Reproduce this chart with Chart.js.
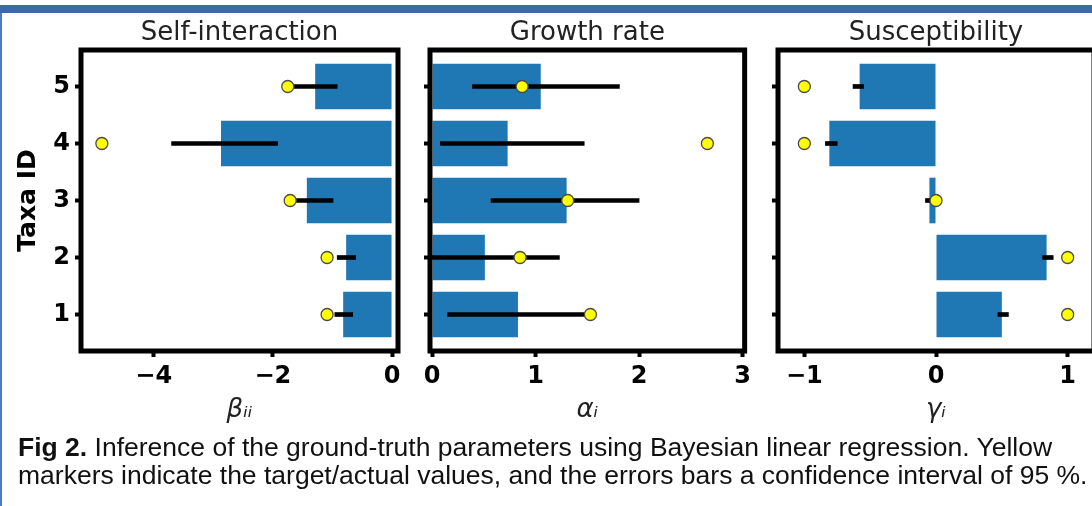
<!DOCTYPE html>
<html>
<head>
<meta charset="utf-8">
<script src="https://cdn.jsdelivr.net/npm/chart.js@4"></script>
<style>
    body {
        margin: 0;
        width: 1092px;
        height: 506px;
        overflow: hidden;
        position: relative;
        background: #fff;
    }
    canvas {
        position: absolute;
        top: 0;
    }
    .top-bar {
        position: absolute;
        left: 0;
        top: 5px;
        width: 1092px;
        height: 8px;
        background: #3b6aa7;
    }
    .left-bar {
        position: absolute;
        left: 0;
        top: 13px;
        width: 2px;
        height: 493px;
        background: #4a7ac0;
    }
    .caption {
        position: absolute;
        left: 18px;
        top: 433px;
        font-family: 'Liberation Sans', Arial, sans-serif;
        font-size: 26.5px;
        line-height: 28px;
        color: #111;
        white-space: nowrap;
    }
</style>
</head>
<body>
<div class="top-bar"></div>
<div class="left-bar"></div>
<canvas id="selfInteractionChart" width="410" height="435" style="left:0px"></canvas>
<canvas id="growthRateChart" width="346" height="435" style="left:410px"></canvas>
<canvas id="susceptibilityChart" width="350" height="435" style="left:756px"></canvas>
<div class="caption"><b>Fig 2.</b> Inference of the ground-truth parameters using Bayesian linear regression. Yellow<br>markers indicate the target/actual values, and the errors bars a confidence interval of 95 %.</div>

<script>
// Data, in taxa order 1..5
const taxaIds = [1, 2, 3, 4, 5];
const taxaTicks = [1, 2, 3, 4, 5];

const selfInteractionMean = [-0.82, -0.77, -1.43, -2.87, -1.29];
const selfInteractionLow = [-0.96, -0.92, -1.80, -3.70, -1.66];
const selfInteractionHigh = [-0.66, -0.61, -0.99, -1.92, -0.92];
const selfInteractionTrue = [-1.09, -1.09, -1.71, -4.87, -1.75];
const selfInteractionTicks = [-4, -2, 0];

const growthRateMean = [0.83, 0.51, 1.30, 0.73, 1.05];
const growthRateLow = [0.15, -0.20, 0.57, 0.08, 0.39];
const growthRateHigh = [1.52, 1.23, 2.00, 1.47, 1.81];
const growthRateTrue = [1.53, 0.85, 1.31, 2.66, 0.87];
const growthRateTicks = [0, 1, 2, 3];

const susceptibilityMean = [0.50, 0.84, -0.05, -0.81, -0.58];
const susceptibilityLow = [0.47, 0.81, -0.08, -0.84, -0.63];
const susceptibilityHigh = [0.55, 0.89, -0.02, -0.75, -0.55];
const susceptibilityTrue = [1, 1, 0, -1, -1];
const susceptibilityTicks = [-1, 0, 1];

const FONT = 'DejaVu Sans';

// thick black box around each plot area
const framePlugin = {
    id: 'frame',
    afterDraw(chart) {
        const { ctx, chartArea } = chart;
        ctx.save();
        ctx.lineWidth = 5;
        ctx.strokeStyle = '#000';
        ctx.strokeRect(chartArea.left, chartArea.top, chartArea.right - chartArea.left, chartArea.bottom - chartArea.top);
        ctx.restore();
    }
};

const minusSign = value => value < 0 ? '\u2212' + Math.abs(value) : String(value);

function makePanelConfig(panel) {
    return {
        type: 'bar',
        data: {
            datasets: [
                {
                    type: 'scatter',
                    data: taxaIds.map((id, i) => ({ x: panel.truth[i], y: id })),
                    pointRadius: 6,
                    pointBackgroundColor: '#ffff00',
                    pointBorderColor: '#4a4a4a',
                    pointBorderWidth: 1.3,
                    order: 0
                },
                {
                    indexAxis: 'y',
                    data: taxaIds.map((id, i) => ({ x: [panel.low[i], panel.high[i]], y: id })),
                    backgroundColor: '#000',
                    barThickness: 4,
                    grouped: false,
                    order: 1
                },
                {
                    indexAxis: 'y',
                    data: taxaIds.map((id, i) => ({ x: panel.mean[i], y: id })),
                    backgroundColor: '#1f77b4',
                    barPercentage: 0.8,
                    categoryPercentage: 1,
                    grouped: false,
                    order: 2
                }
            ]
        },
        options: {
            responsive: false,
            animation: false,
            layout: {
                padding: { left: 0, right: panel.rightPad, top: 0, bottom: 0 }
            },
            plugins: {
                legend: { display: false },
                tooltip: { enabled: false },
                title: {
                    display: true,
                    text: panel.title,
                    fullSize: false,
                    color: '#222',
                    font: { family: FONT, size: 26, weight: 'normal', lineHeight: 1 },
                    padding: { top: 20, bottom: 4 }
                }
            },
            scales: {
                x: {
                    type: 'linear',
                    min: panel.xMin,
                    max: panel.xMax,
                    offset: false,
                    afterBuildTicks: scale => {
                        scale.ticks = panel.ticks.map(v => ({ value: v }));
                    },
                    afterFit: scale => {
                        scale.height = 84;
                    },
                    border: { display: false },
                    grid: {
                        offset: false,
                        drawOnChartArea: false,
                        drawTicks: true,
                        tickLength: 6,
                        tickWidth: 4,
                        tickColor: '#000'
                    },
                    ticks: {
                        color: '#000',
                        padding: 5,
                        autoSkip: false,
                        maxRotation: 0,
                        font: { family: FONT, size: 24, weight: 'bold' },
                        callback: minusSign
                    },
                    title: {
                        display: true,
                        text: panel.xTitle,
                        color: '#222',
                        font: { family: FONT, size: 26, style: 'italic', lineHeight: 1 },
                        padding: { top: 0, bottom: 12 }
                    }
                },
                y: {
                    type: 'linear',
                    min: 0.36,
                    max: 5.64,
                    offset: false,
                    afterBuildTicks: scale => {
                        scale.ticks = taxaTicks.map(v => ({ value: v }));
                    },
                    afterFit: scale => {
                        scale.width = panel.yWidth;
                    },
                    border: { display: false },
                    grid: {
                        offset: false,
                        drawOnChartArea: false,
                        drawTicks: true,
                        tickLength: 6,
                        tickWidth: 4,
                        tickColor: '#000'
                    },
                    ticks: {
                        display: panel.showYLabels,
                        color: '#000',
                        padding: 5,
                        font: { family: FONT, size: 24, weight: 'bold' }
                    },
                    title: {
                        display: panel.showYLabels,
                        text: 'Taxa ID',
                        color: '#000',
                        font: { family: FONT, size: 25, weight: 'bold', lineHeight: 1 },
                        padding: { top: 16, bottom: 0 }
                    }
                }
            }
        },
        plugins: [framePlugin]
    };
}

// 1. Self-interaction
new Chart(
    document.getElementById('selfInteractionChart'),
    makePanelConfig({
        title: 'Self-interaction',
        xTitle: '\u03b2\u1d62\u1d62',
        mean: selfInteractionMean,
        low: selfInteractionLow,
        high: selfInteractionHigh,
        truth: selfInteractionTrue,
        ticks: selfInteractionTicks,
        xMin: -5.22,
        xMax: 0.10,
        yWidth: 81,
        rightPad: 12,
        showYLabels: true
    })
);

// 2. Growth rate
new Chart(
    document.getElementById('growthRateChart'),
    makePanelConfig({
        title: 'Growth rate',
        xTitle: '\u03b1\u1d62',
        mean: growthRateMean,
        low: growthRateLow,
        high: growthRateHigh,
        truth: growthRateTrue,
        ticks: growthRateTicks,
        xMin: -0.02,
        xMax: 3.02,
        yWidth: 20,
        rightPad: 10,
        showYLabels: false
    })
);

// 3. Susceptibility
new Chart(
    document.getElementById('susceptibilityChart'),
    makePanelConfig({
        title: 'Susceptibility',
        xTitle: '\u03b3\u1d62',
        mean: susceptibilityMean,
        low: susceptibilityLow,
        high: susceptibilityHigh,
        truth: susceptibilityTrue,
        ticks: susceptibilityTicks,
        xMin: -1.2,
        xMax: 1.2,
        yWidth: 22,
        rightPad: 12,
        showYLabels: false
    })
);
</script>
</body>
</html>
